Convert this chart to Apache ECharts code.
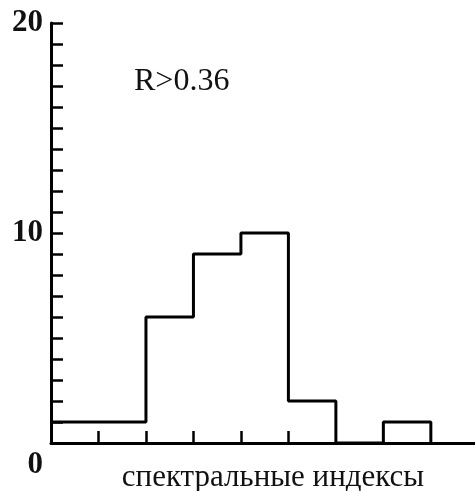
<!DOCTYPE html>
<html>
<head>
<meta charset="utf-8">
<script src="https://cdn.jsdelivr.net/npm/echarts@6/dist/echarts.min.js"></script>
<style>
  html, body { margin: 0; padding: 0; background: #fff; }
  #container { width: 475px; height: 491px; }
</style>
</head>
<body>
<div id="container"></div>
<script>
(function () {
    // bin left edges and counts
    const binEdges = [0, 1, 2, 3, 4, 5, 6, 7, 8];
    const binCounts = [1, 1, 6, 9, 10, 2, 0, 1, 0];
    const yLabels = [0, 10, 20];
    const xTicks = [1, 2, 3, 4, 5];
    const note = 'R>0.36';
    const xName = 'спектральные индексы';

    // step line data: each point is [left edge, count]
    const stepData = binEdges.map((e, i) => [e, binCounts[i]]);

    const font = 'Liberation Serif';

    var dom = document.getElementById('container');
    var myChart = echarts.init(dom, null, { renderer: 'canvas' });

    myChart.setOption({
        animation: false,
        title: {
            text: note,
            left: 134,
            top: 66,
            padding: 0,
            textStyle: { fontFamily: font, fontSize: 32, fontWeight: 'normal', color: '#111' }
        },
        grid: { left: 51, right: 0, top: 23, bottom: 48, containLabel: false, outerBoundsMode: 'none' },
        xAxis: {
            type: 'value',
            min: 0,
            max: 8.93,
            name: xName,
            nameLocation: 'middle',
            nameGap: 19,
            nameTextStyle: { fontFamily: font, fontSize: 31, color: '#111', padding: [0, 0, 0, 20] },
            axisLine: { show: true, lineStyle: { color: '#000', width: 3 } },
            axisTick: { show: true, inside: true, length: 12, customValues: xTicks, lineStyle: { color: '#000', width: 2.5 } },
            axisLabel: { show: false },
            splitLine: { show: false }
        },
        yAxis: {
            type: 'value',
            min: 0,
            max: 20,
            interval: 1,
            axisLine: { show: true, lineStyle: { color: '#000', width: 3 } },
            axisTick: { show: true, inside: true, length: 12, lineStyle: { color: '#000', width: 2.5 } },
            axisLabel: {
                customValues: yLabels,
                margin: 8,
                fontFamily: font,
                fontSize: 31,
                fontWeight: 'bold',
                color: '#111',
                formatter: function (v) { return v === 0 ? '{z|0}' : String(v); },
                rich: {
                    z: { fontFamily: font, fontSize: 31, fontWeight: 'bold', color: '#111', padding: [44, 0, 0, 0] }
                }
            },
            splitLine: { show: false }
        },
        series: [
            {
                name: 'counts',
                type: 'line',
                step: 'end',
                data: stepData,
                symbol: 'none',
                lineStyle: { color: '#000', width: 3 }
            }
        ]
    });
})();
</script>
</body>
</html>
